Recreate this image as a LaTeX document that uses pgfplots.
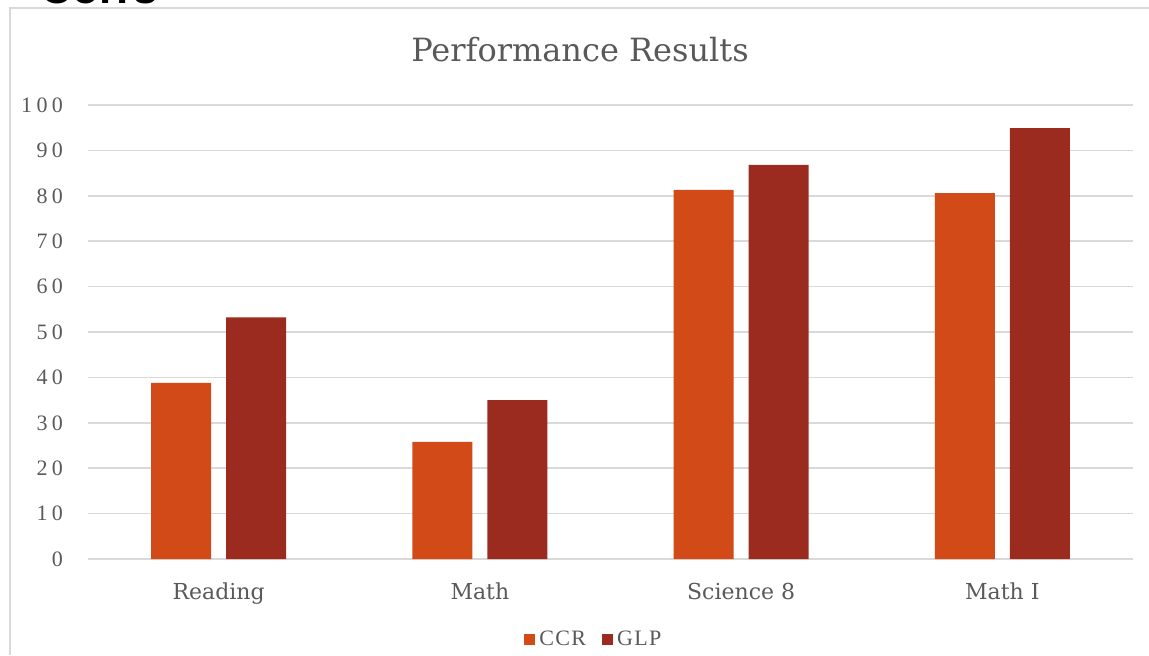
\documentclass[border=0pt]{standalone}
\usepackage{fontspec}
\setmainfont{DejaVu Serif}
\newfontfamily\tickfont[LetterSpace=20]{Liberation Serif}
\newfontfamily\legfont[LetterSpace=6]{Liberation Serif}
\newfontfamily\corrfont{Liberation Sans}
\usepackage{pgfplots}
\pgfplotsset{compat=1.18}
\definecolor{ccr}{HTML}{D24A17}
\definecolor{glp}{HTML}{9C2B1F}
\definecolor{txt}{HTML}{595959}
\definecolor{gridc}{HTML}{D9D9D9}

\begin{document}
\begin{tikzpicture}
\useasboundingbox (0,0) rectangle (574.5pt,327.5pt);
% slide frame and cut-off heading
\draw[gridc, line width=0.8pt] (5pt,0) -- (5pt,323.5pt) -- (574.5pt,323.5pt);
\begin{scope}
  \clip (0,0) rectangle (574.5pt,327.5pt);
  \node[anchor=base west, inner sep=0, font=\corrfont\bfseries\fontsize{22}{24}\selectfont] at (20pt,325.5pt) {Corrs};
\end{scope}
\node[font=\fontsize{16}{19}\selectfont, text=txt] at (290pt,302.5pt) {Performance Results};
\begin{axis}[
    at={(44pt,48pt)}, anchor=south west,
    scale only axis,
    width=522.5pt, height=227pt,
    ybar=7.5pt, bar width=30pt,
    ymin=0, ymax=100, ytick={0,10,...,100},
    xmin=-0.5, xmax=3.5,
    xtick={0,1,2,3},
    xticklabels={Reading, Math, Science 8, Math I},
    axis line style={draw=none},
    major tick length=0pt,
    ymajorgrids, grid style={gridc, line width=0.75pt},
    /pgf/number format/assume math mode=true,
    yticklabel style={font=\tickfont\fontsize{11}{13}\selectfont, text=txt, xshift=-9pt},
    xticklabel style={font=\fontsize{11}{13}\selectfont, text=txt, yshift=-8.5pt},
    legend columns=2,
    legend style={at={(0.485,-0.178)}, anchor=center, draw=none, fill=none,
        font=\legfont\fontsize{11}{13}\selectfont, text=txt,
        /tikz/every even column/.append style={column sep=6pt}},
]
\addplot[fill=ccr, draw=none,
    legend image code/.code={\fill[ccr] (0pt,-2.75pt) rectangle (5.5pt,2.75pt);}]
    coordinates {(0,38.8) (1,25.8) (2,81.3) (3,80.6)};
\addplot[fill=glp, draw=none,
    legend image code/.code={\fill[glp] (0pt,-2.75pt) rectangle (5.5pt,2.75pt);}]
    coordinates {(0,53.2) (1,35.0) (2,86.8) (3,94.9)};
\legend{CCR, GLP}
\end{axis}
\end{tikzpicture}
\end{document}
